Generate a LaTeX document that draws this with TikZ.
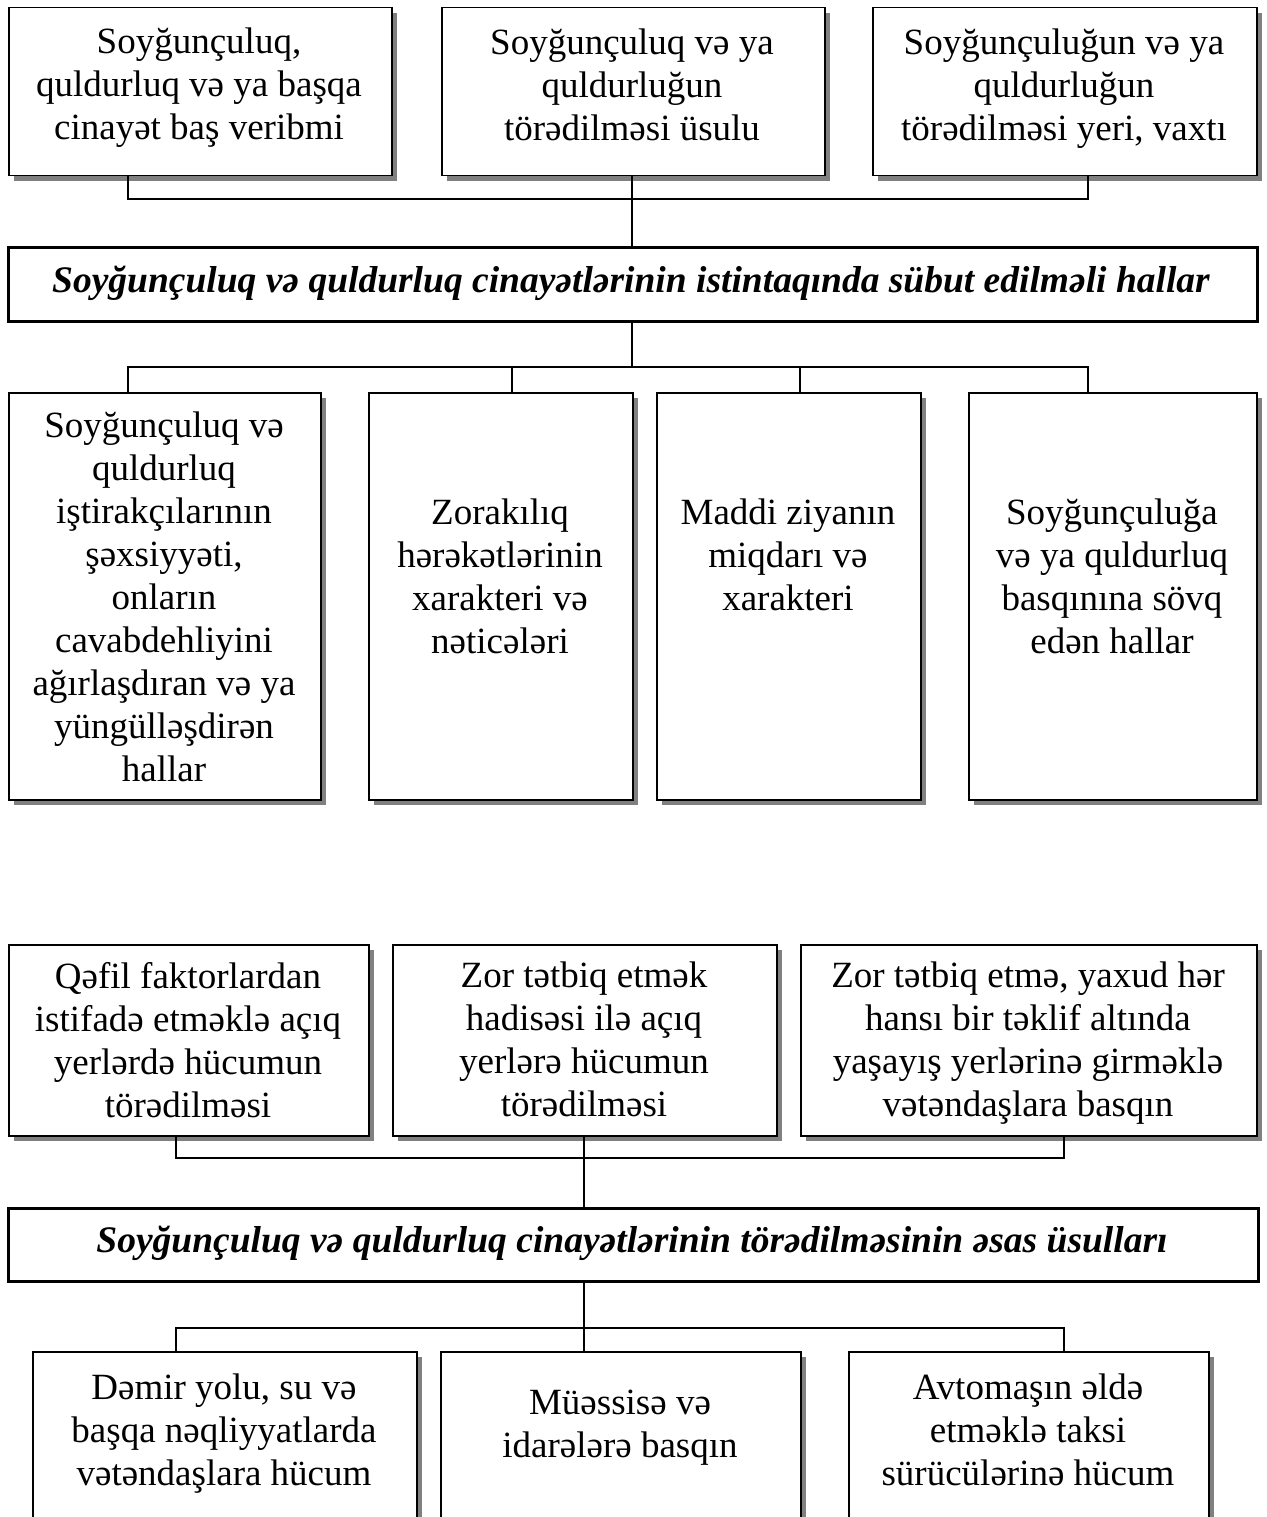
\documentclass[tikz,border=0pt]{standalone}
\usepackage{fontspec}
\setmainfont{Liberation Serif}
\usetikzlibrary{shadows}
\begin{document}
\begin{tikzpicture}[x=1pt,y=-1pt,
  box/.style={draw, line width=1.5pt, fill=white, inner sep=0pt, anchor=north west,
    drop shadow={shadow xshift=5pt, shadow yshift=-5pt, fill=black!50, opacity=1}},
  headbox/.style={draw, line width=3pt, fill=white, inner sep=0pt, anchor=north west},
  txt/.style={align=center, inner sep=0pt, font=\fontsize{37}{43}\selectfont},
  headtxt/.style={align=center, inner sep=0pt, font=\fontsize{37.5}{43}\selectfont\bfseries\itshape},
  conn/.style={line width=2pt}]
\useasboundingbox (0,0) rectangle (1266,1517);
\clip (0,0) rectangle (1266,1517);

% top row
\node[box, minimum width=383pt, minimum height=168pt] (b1) at (8,7) {};
\node[box, minimum width=383pt, minimum height=168pt] (b2) at (441,7) {};
\node[box, minimum width=384pt, minimum height=168pt] (b3) at (872,7) {};
\node[txt] (tb1) at (199,88) {Soyğunçuluq,\\quldurluq və ya başqa\\cinayət baş veribmi};
\node[txt] (tb2) at (632,85) {Soyğunçuluq və ya\\quldurluğun\\törədilməsi üsulu};
\node[txt] (tb3) at (1064,89) {Soyğunçuluğun və ya\\quldurluğun\\törədilməsi yeri, vaxtı};

% title 1
\node[headbox, minimum width=1249pt, minimum height=74pt] (h1) at (7,246) {};
\node[headtxt] (th1) at (631,283) {Soyğunçuluq və quldurluq cinayətlərinin istintaqında sübut edilməli hallar};

% second row
\node[box, minimum width=312pt, minimum height=407pt] (r2a) at (8,392) {};
\node[box, minimum width=264pt, minimum height=407pt] (r2b) at (368,392) {};
\node[box, minimum width=264pt, minimum height=407pt] (r2c) at (656,392) {};
\node[box, minimum width=288pt, minimum height=407pt] (r2d) at (968,392) {};
\node[txt] (tr2a) at (164,597) {Soyğunçuluq və\\quldurluq\\iştirakçılarının\\şəxsiyyəti,\\onların\\cavabdehliyini\\ağırlaşdıran və ya\\yüngülləşdirən\\hallar};
\node[txt] (tr2b) at (500,576) {Zorakılıq\\hərəkətlərinin\\xarakteri və\\nəticələri};
\node[txt] (tr2c) at (788,555) {Maddi ziyanın\\miqdarı və\\xarakteri};
\node[txt] (tr2d) at (1112,576) {Soyğunçuluğa\\və ya quldurluq\\basqınına sövq\\edən hallar};

% third row
\node[box, minimum width=360pt, minimum height=191pt] (r3a) at (8,944) {};
\node[box, minimum width=384pt, minimum height=191pt] (r3b) at (392,944) {};
\node[box, minimum width=456pt, minimum height=191pt] (r3c) at (800,944) {};
\node[txt] (tr3a) at (188,1040) {Qəfil faktorlardan\\istifadə etməklə açıq\\yerlərdə hücumun\\törədilməsi};
\node[txt] (tr3b) at (584,1039) {Zor tətbiq etmək\\hadisəsi ilə açıq\\yerlərə hücumun\\törədilməsi};
\node[txt] (tr3c) at (1028,1043) {Zor tətbiq etmə, yaxud hər\\hansı bir təklif altında\\yaşayış yerlərinə girməklə\\vətəndaşlara basqın};

% title 2
\node[headbox, minimum width=1250pt, minimum height=73pt] (h2) at (7,1207) {};
\node[headtxt] (th2) at (632,1243) {Soyğunçuluq və quldurluq cinayətlərinin törədilməsinin əsas üsulları};

% fourth row
\node[box, minimum width=384pt, minimum height=220pt] (r4a) at (32,1351) {};
\node[box, minimum width=360pt, minimum height=220pt] (r4b) at (440,1351) {};
\node[box, minimum width=360pt, minimum height=220pt] (r4c) at (848,1351) {};
\node[txt] (tr4a) at (224,1434) {Dəmir yolu, su və\\başqa nəqliyyatlarda\\vətəndaşlara hücum};
\node[txt] (tr4b) at (620,1428) {Müəssisə və\\idarələrə basqın};
\node[txt] (tr4c) at (1028,1430) {Avtomaşın əldə\\etməklə taksi\\sürücülərinə hücum};

% connectors
\coordinate (u1) at (128,199);
\coordinate (u2) at (1088,199);
\coordinate (um) at (632,199);
\draw[conn] (b1.south -| u1) -- (u1) -- (u2) -- (b3.south -| u2);
\draw[conn] (b2.south -| um) -- (h1.north -| um);

\coordinate (v1) at (128,367);
\coordinate (v2) at (1088,367);
\coordinate (vm) at (632,367);
\coordinate (v3) at (512,367);
\coordinate (v4) at (800,367);
\draw[conn] (h1.south -| vm) -- (vm);
\draw[conn] (r2a.north -| v1) -- (v1) -- (v2) -- (r2d.north -| v2);
\draw[conn] (v3) -- (r2b.north -| v3);
\draw[conn] (v4) -- (r2c.north -| v4);

\coordinate (w1) at (176,1158);
\coordinate (w2) at (1064,1158);
\coordinate (wm) at (584,1158);
\draw[conn] (r3a.south -| w1) -- (w1) -- (w2) -- (r3c.south -| w2);
\draw[conn] (r3b.south -| wm) -- (h2.north -| wm);

\coordinate (x1) at (176,1328);
\coordinate (x2) at (1064,1328);
\coordinate (xm) at (584,1328);
\draw[conn] (h2.south -| xm) -- (r4b.north -| xm);
\draw[conn] (r4a.north -| x1) -- (x1) -- (x2) -- (r4c.north -| x2);
\end{tikzpicture}
\end{document}
